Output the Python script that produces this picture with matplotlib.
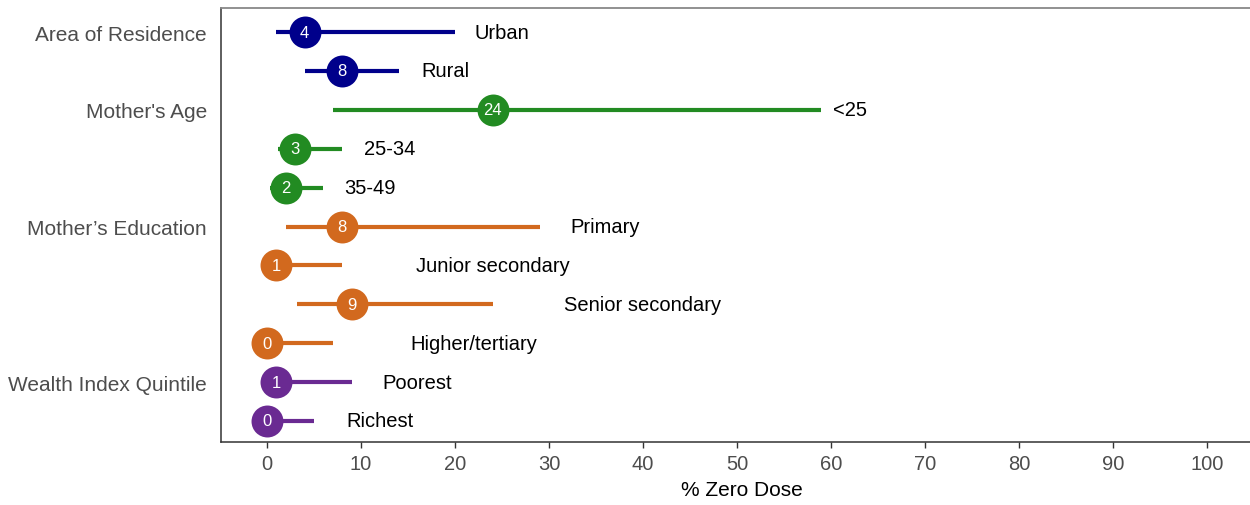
import matplotlib
matplotlib.use("Agg")
import matplotlib.pyplot as plt

plt.rcParams['font.family'] = ['Liberation Sans', 'DejaVu Sans']

# Data
labels = ["Urban", "Rural", "<25", "25-34", "35-49", "Primary", "Junior secondary",
          "Senior secondary", "Higher/tertiary", "Poorest", "Richest"]
groups = ["Area of Residence", "Area of Residence", "Mother's Age", "Mother's Age", "Mother's Age",
          "Mother\u2019s Education", "Mother\u2019s Education", "Mother\u2019s Education", "Mother\u2019s Education",
          "Wealth Index Quintile", "Wealth Index Quintile"]
estimate = [4, 8, 24, 3, 2, 8, 1, 9, 0, 1, 0]
ci_low = [1, 4, 7, 1.2, 0.3, 2, 0, 3.2, 0, 0, 0]
ci_high = [20, 14, 59, 8, 6, 29, 8, 24, 7, 9, 5]
group_colors = {"Area of Residence": "#00008B", "Mother's Age": "#228B22",
                "Mother\u2019s Education": "#D2691E", "Wealth Index Quintile": "#6A2A92"}
x_ticks = list(range(0, 101, 10))

fig = plt.figure(figsize=(12.5, 5.06), dpi=100)
ax = fig.add_axes([221/1250, 1 - 443/506, (1250 - 221)/1250 + 0.01, (443 - 8.5)/506])

rows = list(range(len(labels)))
for r, lab, g, est, lo, hi in zip(rows, labels, groups, estimate, ci_low, ci_high):
    c = group_colors[g]
    ax.plot([lo, hi], [r, r], color=c, lw=3.0, solid_capstyle='butt', zorder=2)
    ax.plot([est], [r], marker='o', markersize=23, color=c, markeredgewidth=0, zorder=3)
    ax.text(est, r, f"{est:.0f}", color='white', ha='center', va='center', fontsize=12, zorder=4)
    ax.text(hi + len(lab), r, lab, ha='center', va='center', fontsize=14.5, color='black')

# group tick labels at first row of each group
tick_pos, tick_lab = [], []
for r, g in zip(rows, groups):
    if g not in tick_lab:
        tick_pos.append(r)
        tick_lab.append(g)
ax.set_yticks(tick_pos)
ax.set_yticklabels(tick_lab, fontsize=15, color='#4D4D4D')
ax.tick_params(axis='y', length=0, pad=10)

ax.set_xticks(x_ticks)
ax.set_xticklabels([str(t) for t in x_ticks], fontsize=14.5, color='#4D4D4D')
ax.tick_params(axis='x', length=4, width=1, color='#333333', pad=5)
ax.set_xlim(-4.9, 104.6 + 0.01 * 1250 / 9.39)
ax.set_ylim(10.54, -0.63)
ax.set_xlabel("% Zero Dose", fontsize=15, color='black', labelpad=5)

for s in ['left', 'bottom']:
    ax.spines[s].set_color('#333333')
    ax.spines[s].set_linewidth(1.1)
ax.spines['top'].set_color('#888888')
ax.spines['top'].set_linewidth(1.3)
ax.spines['right'].set_visible(False)

fig.savefig("out.png", dpi=100)
